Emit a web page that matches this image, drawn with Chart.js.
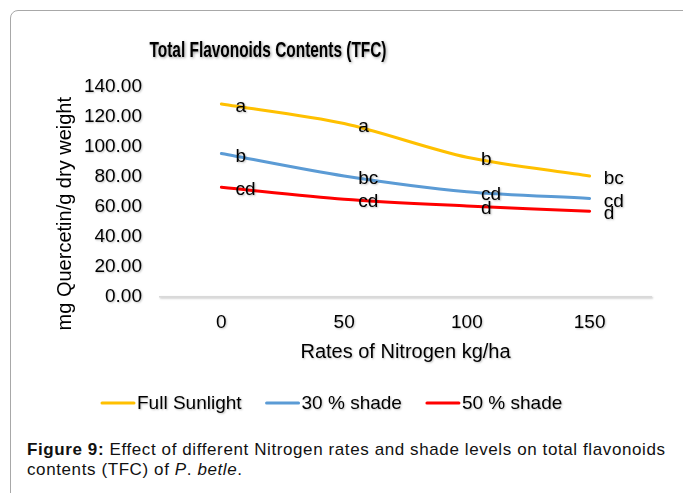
<!DOCTYPE html>
<html>
<head>
<meta charset="utf-8">
<script src="https://cdn.jsdelivr.net/npm/chart.js@4.4.1/dist/chart.umd.min.js"></script>
<style>
  body { margin: 0; background: #fff; font-family: "Liberation Sans", Arial, sans-serif; }
  #box {
    position: absolute; left: 10px; top: 10px; width: 720px; height: 520px;
    border: 1.5px solid #a8a8a8; border-radius: 8px;
  }
  #myChart { position: absolute; left: 0; top: 0; }
  #caption {
    position: absolute; left: 27px; top: 440px; font-size: 17px; line-height: 20px;
    letter-spacing: 0.6px; color: #111; white-space: nowrap;
  }
</style>
</head>
<body>
<div id="box"></div>
<canvas id="myChart" width="683" height="430"></canvas>
<div id="caption"><b>Figure 9:</b> Effect of different Nitrogen rates and shade levels on total flavonoids<br>contents (TFC) of <i>P</i>. <i>betle</i>.</div>
<script>
const nitrogenRates = ["0", "50", "100", "150"];
const fullSunlight = [128.5, 115.5, 93, 80.5];
const shade30 = [95.5, 80.5, 70, 65.5];
const shade50 = [73, 65, 60.5, 57];
const fullSunlightLetters = ["a", "a", "b", "bc"];
const shade30Letters = ["b", "bc", "cd", "cd"];
const shade50Letters = ["cd", "cd", "d", "d"];
const yTicks = [0, 20, 40, 60, 80, 100, 120, 140];

const font = "'Liberation Sans', Arial, sans-serif";

// shadow on the axis text, none on the lines
const shadowPlugin = {
    id: "shadow",
    beforeDraw(chart) {
        const ctx = chart.ctx;
        ctx.shadowColor = "rgba(0,0,0,0.25)";
        ctx.shadowBlur = 2;
        ctx.shadowOffsetX = 1;
        ctx.shadowOffsetY = 1;
    },
    beforeDatasetsDraw(chart) {
        const ctx = chart.ctx;
        ctx.shadowColor = "rgba(0,0,0,0)";
        ctx.shadowBlur = 0;
        ctx.shadowOffsetX = 0;
        ctx.shadowOffsetY = 0;
    }
};

// letters next to each point, title, y title and legend
const extrasPlugin = {
    id: "extras",
    afterDraw(chart) {
        const ctx = chart.ctx;
        const area = chart.chartArea;
        ctx.save();
        ctx.shadowColor = "rgba(0,0,0,0.25)";
        ctx.shadowBlur = 2;
        ctx.shadowOffsetX = 1;
        ctx.shadowOffsetY = 1;

        // letters
        ctx.fillStyle = "#000";
        ctx.font = "19px " + font;
        ctx.textAlign = "left";
        ctx.textBaseline = "middle";
        chart.data.datasets.forEach((ds, i) => {
            const meta = chart.getDatasetMeta(i);
            meta.data.forEach((pt, j) => {
                ctx.fillText(ds.letters[j], pt.x + 14, pt.y + 3);
            });
        });

        // title
        ctx.font = "bold 22px " + font;
        ctx.textAlign = "center";
        ctx.shadowColor = "rgba(0,0,0,0.4)";
        ctx.shadowBlur = 3;
        const tw = ctx.measureText("Total Flavonoids Contents (TFC)").width;
        ctx.save();
        ctx.translate(268, 51);
        ctx.scale(237 / tw, 1);
        ctx.fillText("Total Flavonoids Contents (TFC)", 0, 0);
        ctx.restore();

        // y axis title
        ctx.shadowColor = "rgba(0,0,0,0)";
        ctx.save();
        ctx.translate(65, (area.top + area.bottom) / 2 + 22);
        ctx.rotate(-Math.PI / 2);
        ctx.font = "20px " + font;
        ctx.fillText("mg Quercetin/g dry weight", 0, 0);
        ctx.restore();

        // legend
        ctx.shadowColor = "rgba(0,0,0,0.25)";
        ctx.shadowBlur = 2;
        ctx.font = "19px " + font;
        ctx.textAlign = "left";
        let x = 102;
        const y = 403;
        chart.data.datasets.forEach((ds) => {
            ctx.save();
            ctx.shadowColor = "rgba(0,0,0,0)";
            ctx.strokeStyle = ds.borderColor;
            ctx.lineWidth = 3;
            ctx.lineCap = "round";
            ctx.beginPath();
            ctx.moveTo(x, y);
            ctx.lineTo(x + 32, y);
            ctx.stroke();
            ctx.restore();
            ctx.fillStyle = "#000";
            ctx.fillText(ds.label, x + 35, y + 1);
            x += 35 + ctx.measureText(ds.label).width + 25;
        });
        ctx.restore();
    }
};

const data = {
    labels: nitrogenRates,
    datasets: [
        { label: "Full Sunlight", data: fullSunlight, letters: fullSunlightLetters, borderColor: "#FFC000" },
        { label: "30 % shade", data: shade30, letters: shade30Letters, borderColor: "#5B9BD5" },
        { label: "50 % shade", data: shade50, letters: shade50Letters, borderColor: "#FF0000" }
    ].map((d) => Object.assign(d, {
        backgroundColor: d.borderColor,
        borderWidth: 3,
        pointRadius: 0,
        tension: 0.3,
        borderCapStyle: "round"
    }))
};

const config = {
    type: "line",
    data,
    options: {
        responsive: false,
        animation: false,
        devicePixelRatio: 1,
        layout: { padding: { left: 0, right: 32, top: 86.7, bottom: 63.3 } },
        plugins: { legend: { display: false }, title: { display: false }, tooltip: { enabled: false } },
        scales: {
            x: {
                type: "category",
                offset: true,
                grid: { display: false, drawTicks: false },
                border: { display: true, color: "#d9d9d9", width: 1.5 },
                ticks: { color: "#000", font: { size: 19, family: font }, padding: 15, maxRotation: 0 },
                title: {
                    display: true,
                    text: "Rates of Nitrogen kg/ha",
                    color: "#000",
                    font: { size: 20, family: font },
                    padding: { top: 0, bottom: 2 }
                },
                afterFit: (s) => { s.height = 70; }
            },
            y: {
                min: 0,
                max: 140,
                afterBuildTicks: (s) => { s.ticks = yTicks.map((v) => ({ value: v })); },
                grid: { display: false, drawTicks: false },
                border: { display: false },
                ticks: {
                    color: "#000",
                    font: { size: 19, family: font },
                    padding: 18,
                    callback: (v) => Number(v).toFixed(2)
                },
                afterFit: (s) => { s.width = 160; }
            }
        }
    },
    plugins: [shadowPlugin, extrasPlugin]
};

var myChart = new Chart(document.getElementById("myChart"), config);
</script>
</body>
</html>
